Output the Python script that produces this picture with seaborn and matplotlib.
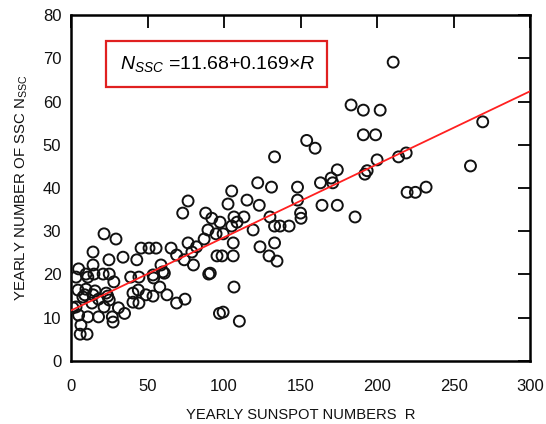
import matplotlib
matplotlib.use("Agg")
import matplotlib.pyplot as plt
import seaborn as sns
import numpy as np
import pandas as pd
from matplotlib.patches import Rectangle

# Yearly sunspot number R and yearly SSC count N
sunspot_r = [
    5, 3.3, 4.6, 3.3, 5, 6.5, 6, 10.5,
    11, 14.4, 14.4, 15, 21, 25, 9, 14.4, 15.7, 24, 18, 13.7, 21.6, 11, 18, 27, 27.5, 31, 35, 28,
    21.6, 29.4, 24.8, 34, 43, 9.8, 9.8, 7.8, 23, 25, 1.3,
    39, 44.4, 53.6, 58.8, 61, 40.5, 44, 49, 53.6, 40.5, 44.4, 58, 62.7, 69, 74.5,
    45.8, 51, 55.6, 65.4, 69, 74, 80, 76.5, 82, 87, 89.5, 88, 92, 94.8, 95.4, 90, 97, 76.5, 73,
    79, 60, 54,
    99.4, 97.4, 106.5, 108.5, 113, 105, 105, 102.6, 115, 123, 119, 106, 123.5, 133, 98.7, 106,
    129.4, 134.6, 91, 106.5, 99.4, 110, 130, 133, 136.6, 142.5, 150, 150.3, 122, 131, 148, 148, 133,
    154, 159.5, 163, 170, 171, 174, 164, 174, 185.6, 183, 191, 202, 191, 199, 200, 193.5, 192,
    210.5, 269, 214, 219, 261, 219.6, 225, 232,
]
ssc_n = [
    21.3, 19.4, 16.4, 12.5, 10.6, 8.3, 6.2, 6.2,
    19.4, 25.2, 22.2, 20.1, 20.1, 20.1, 15.3, 15.3, 16.2, 15, 14.3, 13.4, 12.5, 10.2, 10.2, 10.2, 9, 12.3, 11, 18.3,
    29.4, 28.2, 23.4, 24, 23.4, 20.1, 16.6, 14.8, 15.7, 14.1, 12.3,
    19.4, 19.4, 19.9, 22.2, 20.3, 15.7, 16.4, 15.3, 15, 13.6, 13.4, 17.1, 15.3, 13.4, 14.3,
    26.1, 26.1, 26.1, 26.1, 24.5, 23.4, 22.2, 27.3, 26.4, 28.2, 30.3, 34.2, 33, 29.4, 24.3, 20.1, 11, 37, 34.2,
    25.2, 20.6, 19.2,
    29.4, 32.1, 33.3, 32.1, 33.3, 31.2, 39.3, 36.3, 37.2, 36, 30.3, 27.3, 26.4, 27.3, 24.3, 24.3,
    24.3, 23.1, 20.3, 17.1, 11.3, 9.2, 33.3, 31.2, 31.2, 31.2, 34.2, 33, 41.2, 40.2, 40.2, 37.2, 47.2,
    51, 49.2, 41.2, 42.3, 41.2, 44.2, 36, 36, 33.3, 59.2, 58, 58, 52.3, 52.3, 46.5, 44, 43.2,
    69.1, 55.3, 47.2, 48.1, 45.1, 39, 39, 40.2,
]

fit_intercept = 11.68
fit_slope = 0.169
fit_r = [0, 300]
fit_n = [fit_intercept + fit_slope * r for r in fit_r]

x_ticks = [0, 50, 100, 150, 200, 250, 300]
y_ticks = [0, 10, 20, 30, 40, 50, 60, 70, 80]

sns.set_theme(style="white")
plt.rcParams['font.family'] = ['Liberation Sans', 'DejaVu Sans']
plt.rcParams['mathtext.fontset'] = 'custom'
plt.rcParams['mathtext.rm'] = 'Liberation Sans'
plt.rcParams['mathtext.it'] = 'Liberation Sans:italic'

fig = plt.figure(figsize=(5.46, 4.24), dpi=100)
ax = fig.add_axes([0.130, 0.1486, 0.841, 0.816])

df = pd.DataFrame({"R": sunspot_r, "N": ssc_n})
sns.scatterplot(data=df, x="R", y="N", ax=ax, marker="o", s=62,
                facecolor="none", edgecolor="#111111", linewidth=1.4, zorder=3)
fit_df = pd.DataFrame({"R": fit_r, "N": fit_n})
sns.lineplot(data=fit_df, x="R", y="N", ax=ax, color="#ff2020", linewidth=1.3, zorder=4)

ax.set_xlim(0, 300)
ax.set_ylim(0, 80)
ax.set_xticks(x_ticks)
ax.set_yticks(y_ticks)
ax.tick_params(axis="both", direction="in", length=9, width=1.3, color="black",
               labelsize=12, top=True, right=True, labelcolor="#111111")
ax.tick_params(axis="x", pad=13)
ax.tick_params(axis="y", pad=7)
for sp in ax.spines.values():
    sp.set_linewidth(1.8)
    sp.set_color("black")
    sp.set_visible(True)

ax.set_xlabel("YEARLY SUNSPOT NUMBERS  R", fontsize=10.6, labelpad=10, color="#111111")
ax.set_ylabel(r"YEARLY NUMBER OF SSC N$_{\mathregular{SSC}}$", fontsize=10.8, labelpad=9, color="#111111")

# equation box
ax.add_patch(Rectangle((23.2, 63.4), 143.8, 10.6, transform=ax.transData,
                       fill=False, edgecolor="#e02020", linewidth=1.6, zorder=5))
ax.text(96, 68.6, r"$N_{SSC}$ =11.68+0.169×$R$", ha="center", va="center",
        fontsize=14, color="black", zorder=6)

fig.savefig("out.png", dpi=100)
